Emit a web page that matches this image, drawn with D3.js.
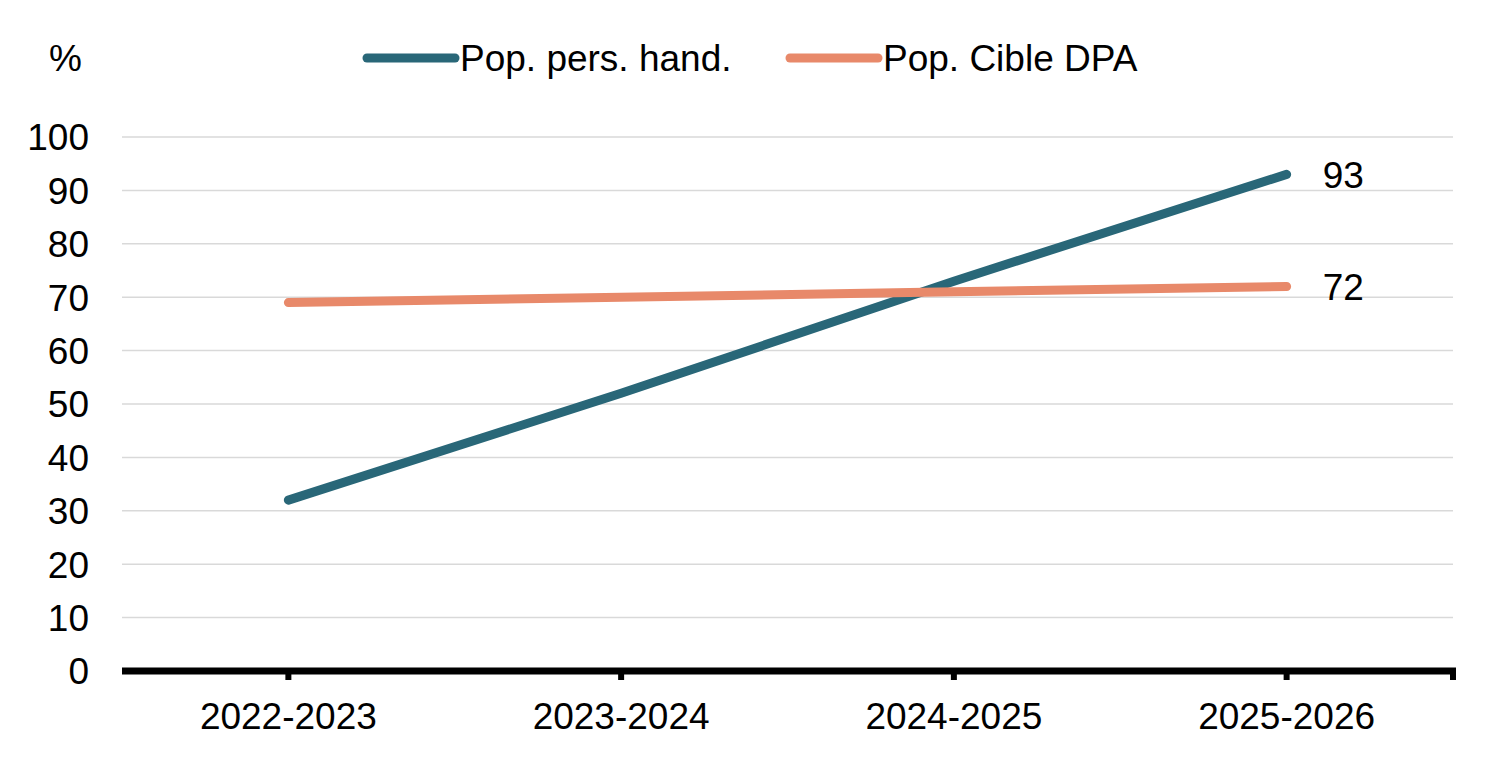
<!DOCTYPE html>
<html>
<head>
<meta charset="utf-8">
<script src="https://cdn.jsdelivr.net/npm/d3@7"></script>
<style>
  body { margin: 0; background: #fff; }
  svg text { font-family: "Liberation Sans", Arial, sans-serif; fill: #000; }
</style>
</head>
<body>
<svg id="chart" width="1500" height="762"></svg>
<script>
// data
var categories = ["2022-2023", "2023-2024", "2024-2025", "2025-2026"];
var persHand = [32, 52, 73, 93];
var cibleDPA = [69, 70, 71, 72];
var yTicks = [0, 10, 20, 30, 40, 50, 60, 70, 80, 90, 100];
var seriesNames = ["Pop. pers. hand.", "Pop. Cible DPA"];
var seriesColors = ["#296778", "#e8896a"];

var svg = d3.select("#chart");
var plotLeft = 122, plotRight = 1453, plotTop = 137, plotBottom = 671;
var fontSize = "37px";

var x = d3.scalePoint().domain(categories).range([plotLeft, plotRight]).padding(0.5);
var y = d3.scaleLinear().domain([0, 100]).range([plotBottom, plotTop]);

/* ------- GRID + Y LABELS -------*/
svg.append("g").selectAll("line")
  .data(yTicks.filter(function (d) { return d > 0; }))
  .enter().append("line")
  .attr("x1", plotLeft).attr("x2", plotRight)
  .attr("y1", function (d) { return y(d); })
  .attr("y2", function (d) { return y(d); })
  .attr("stroke", "#d9d9d9")
  .attr("stroke-width", 1.5);

svg.append("g").selectAll("text")
  .data(yTicks)
  .enter().append("text")
  .attr("x", 89)
  .attr("y", function (d) { return y(d); })
  .attr("dy", "0.36em")
  .attr("text-anchor", "end")
  .style("font-size", fontSize)
  .text(function (d) { return d; });

svg.append("text")
  .attr("x", 49).attr("y", 71)
  .style("font-size", fontSize)
  .text("%");

/* ------- X AXIS -------*/
svg.append("line")
  .attr("x1", plotLeft).attr("x2", plotRight + 3)
  .attr("y1", plotBottom).attr("y2", plotBottom)
  .attr("stroke", "#000").attr("stroke-width", 7);

var tickPos = categories.map(function (c) { return x(c); }).concat([plotRight]);
svg.append("g").selectAll("line")
  .data(tickPos)
  .enter().append("line")
  .attr("x1", function (d) { return d; })
  .attr("x2", function (d) { return d; })
  .attr("y1", plotBottom).attr("y2", plotBottom + 9)
  .attr("stroke", "#000").attr("stroke-width", 6);

svg.append("g").selectAll("text")
  .data(categories)
  .enter().append("text")
  .attr("x", function (d) { return x(d); })
  .attr("y", 729)
  .attr("text-anchor", "middle")
  .style("font-size", fontSize)
  .text(function (d) { return d; });

/* ------- LINES -------*/
var line = d3.line()
  .x(function (d, i) { return x(categories[i]); })
  .y(function (d) { return y(d); });

[persHand, cibleDPA].forEach(function (vals, k) {
  svg.append("path")
    .datum(vals)
    .attr("d", line)
    .attr("fill", "none")
    .attr("stroke", seriesColors[k])
    .attr("stroke-width", 9)
    .attr("stroke-linecap", "round")
    .attr("stroke-linejoin", "round");

  var last = vals.length - 1;
  svg.append("text")
    .attr("x", x(categories[last]) + 36)
    .attr("y", y(vals[last]))
    .attr("dy", "0.36em")
    .style("font-size", fontSize)
    .text(vals[last]);
});

/* ------- LEGEND -------*/
var legendX = [367, 790];
var legend = svg.append("g");
seriesNames.forEach(function (name, k) {
  legend.append("line")
    .attr("x1", legendX[k]).attr("x2", legendX[k] + 88)
    .attr("y1", 58).attr("y2", 58)
    .attr("stroke", seriesColors[k])
    .attr("stroke-width", 9)
    .attr("stroke-linecap", "round");
  legend.append("text")
    .attr("x", legendX[k] + 93)
    .attr("y", 58)
    .attr("dy", "0.36em")
    .style("font-size", fontSize)
    .text(name);
});
</script>
</body>
</html>
